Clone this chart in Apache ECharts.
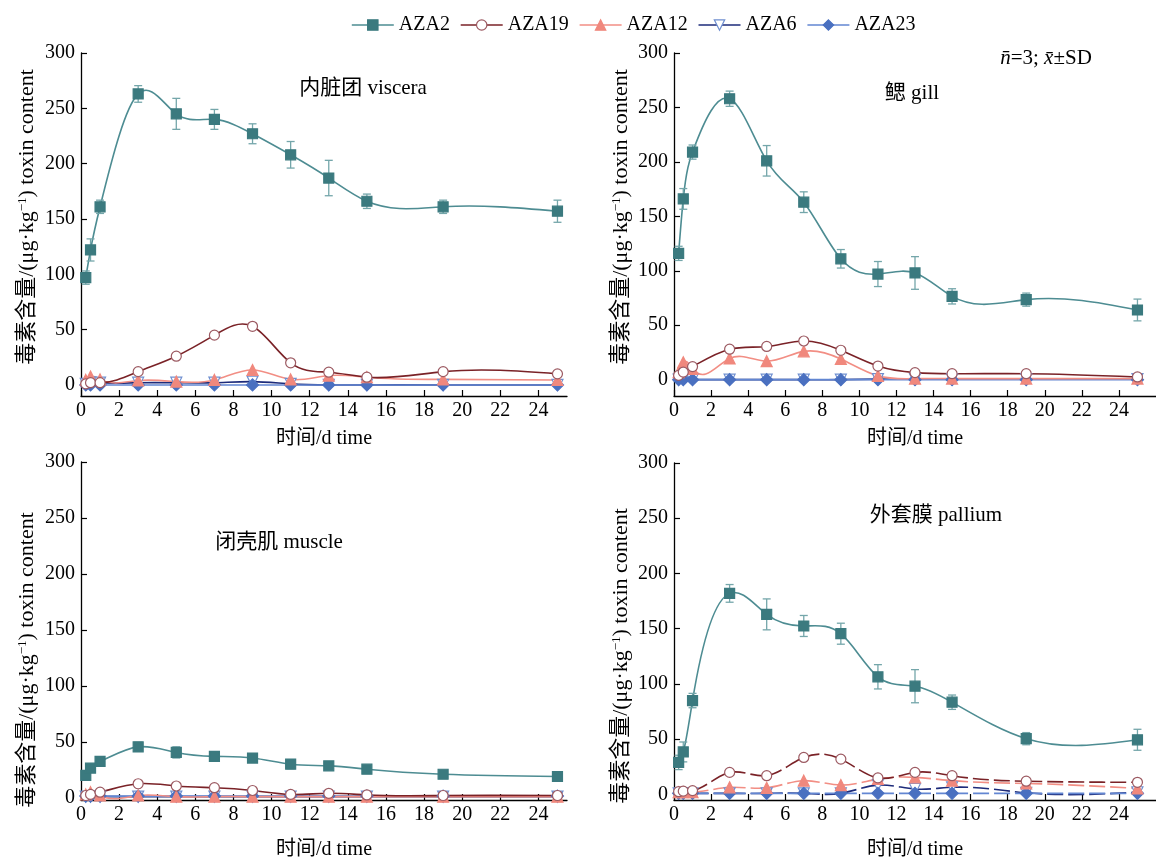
<!DOCTYPE html>
<html>
<head>
<meta charset="utf-8">
<script src="https://cdn.jsdelivr.net/npm/echarts@6/dist/echarts.min.js"></script>
<style>
html,body{margin:0;padding:0;background:#fff;}
#c{width:1156px;height:861px;}
</style>
</head>
<body>
<div id="c"></div>
<script>
// ---------- data ----------
const times = [0.25, 0.5, 1, 3, 5, 7, 9, 11, 13, 15, 19, 25];
const seriesNames = ['AZA2', 'AZA19', 'AZA12', 'AZA6', 'AZA23'];
const xTickValues = [0, 2, 4, 6, 8, 10, 12, 14, 16, 18, 20, 22, 24];
const yTickValues = [0, 50, 100, 150, 200, 250, 300];

const panelTitles = ['内脏团 viscera', '鳃 gill', '闭壳肌 muscle', '外套膜 pallium'];

// viscera
const visceraAZA2   = [97, 122, 161, 263, 245, 240, 227, 208, 187, 166, 161, 157];
const visceraAZA2sd = [6, 10, 6, 7.5, 14, 9, 9, 12, 16, 6.5, 6, 10];
const visceraAZA19  = [1, 2, 2, 12, 26, 45, 53, 20, 11.5, 7, 12, 10];
const visceraAZA12  = [4.5, 7.5, 5, 4, 3, 4.5, 13.5, 5, 8.5, 7, 5, 4.5];
const visceraAZA6   = [1, 2, 2, 2, 2, 2, 3, 1, 0, 0, 0, 0];
const visceraAZA23  = [0, 0, 0, 0, 0, 0, 0, 0, 0, 0, 0, 0];

// gill
const gillAZA2   = [116, 166, 209, 258, 201, 163, 111, 97, 98, 76.5, 73.5, 64];
const gillAZA2sd = [6.5, 9.5, 6.5, 7, 14, 9.5, 8.5, 11.5, 15, 7, 6, 10];
const gillAZA19  = [4, 7, 12, 28, 30.5, 35.5, 27, 12.5, 6.5, 5.5, 5.5, 2.5];
const gillAZA12  = [7, 16, 10, 19.5, 17, 26, 19, 3.5, 1, 1, 1, 1];
const gillAZA6   = [0, 0, 0, 0, 0, 0, 0, 0.5, 0.5, 0.5, 0.5, 0.5];
const gillAZA23  = [0, 0, 0, 0, 0, 0, 0, 0, 0, 0, 0, 0];

// muscle
const muscleAZA2   = [20, 26.5, 32.5, 45.5, 40.5, 37, 35.5, 30, 28.5, 25.5, 21, 19];
const muscleAZA2sd = [2, 2, 2, 4, 5, 2.5, 2, 4, 2, 2, 1.5, 1.5];
const muscleAZA19  = [2, 3, 5, 12.5, 10.5, 9, 6.5, 3, 4, 2.5, 2, 2];
const muscleAZA12  = [3, 5, 2, 2, 1, 1, 1, 1, 1, 1, 1, 1];
const muscleAZA6   = [1, 1, 1, 1, 1, 1, 1, 1, 1, 1, 1, 1];
const muscleAZA23  = [1.5, 1.5, 1.5, 1.5, 1.5, 1.5, 1.5, 1.5, 1.5, 1.5, 1.5, 1.5];

// pallium
const palliumAZA2   = [29, 38.5, 85, 182, 163, 152.5, 145.5, 106.5, 98, 83.5, 50.5, 49.5];
const palliumAZA2sd = [6.5, 9, 6.5, 8, 14, 9.5, 9.5, 11, 15, 6.5, 5.5, 9.5];
const palliumAZA19  = [2.5, 3, 3.5, 20, 17, 33.5, 32, 15, 20, 17, 12, 11];
const palliumAZA12  = [2, 2, 2, 6.5, 6, 12.5, 8.5, 14, 15.5, 12.5, 10, 5.5];
const palliumAZA6   = [1, 1, 1, 1, 1, 1, 1, 8.5, 5, 6.5, 1.5, 2];
const palliumAZA23  = [1, 1, 1, 1, 1, 1, 1, 1, 1, 1, 1, 1];

const panelData = [
  [visceraAZA2, visceraAZA19, visceraAZA12, visceraAZA6, visceraAZA23],
  [gillAZA2, gillAZA19, gillAZA12, gillAZA6, gillAZA23],
  [muscleAZA2, muscleAZA19, muscleAZA12, muscleAZA6, muscleAZA23],
  [palliumAZA2, palliumAZA19, palliumAZA12, palliumAZA6, palliumAZA23]
];
const panelSD = [visceraAZA2sd, gillAZA2sd, muscleAZA2sd, palliumAZA2sd];

// ---------- styles ----------
const FONT = "'Liberation Serif','Times New Roman','Noto Sans CJK SC',serif";
const styles = [
  {symbol: 'rect', size: 10, line: '#4d8c92', fill: '#3b7a7f', border: '#3b7a7f'},
  {symbol: 'circle', size: 10, line: '#7a2227', fill: '#ffffff', border: '#9c5a62'},
  {symbol: 'triangle', size: 11, line: '#f28e84', fill: '#f0887d', border: '#f0887d'},
  {symbol: 'path://M0,0 L10,0 L5,9 Z', size: 11, line: '#1d2b7a', fill: '#ffffff', border: '#6f8fd0'},
  {symbol: 'diamond', size: 12, line: '#6286d2', fill: '#4a70c0', border: '#4a70c0'}
];
const drawOrder = [3, 4, 2, 1, 0];

const grids = [
  {left: 81, top: 53, width: 486, height: 343},
  {left: 674, top: 53, width: 484, height: 343},
  {left: 81, top: 462, width: 486, height: 345},
  {left: 674, top: 463, width: 484, height: 341}
];
const xMax = [25.5, 26, 25.5, 26];
const yMin = [-10, -15, -2, -5];
const xNameGap = [33, 33, 40, 40];

// natural cubic spline slopes (pixel space) -> bezier segments
function splineSegments(pts) {
  const n = pts.length;
  const h = [], M = new Array(n).fill(0);
  for (let i = 0; i < n - 1; i++) h.push(pts[i + 1][0] - pts[i][0]);
  if (n > 2) {
    const a = [], b = [], c = [], d = [];
    for (let i = 1; i < n - 1; i++) {
      a.push(h[i - 1]); b.push(2 * (h[i - 1] + h[i])); c.push(h[i]);
      d.push(6 * ((pts[i + 1][1] - pts[i][1]) / h[i] - (pts[i][1] - pts[i - 1][1]) / h[i - 1]));
    }
    const m = b.length;
    for (let i = 1; i < m; i++) {
      const w = a[i] / b[i - 1];
      b[i] -= w * c[i - 1];
      d[i] -= w * d[i - 1];
    }
    const sol = new Array(m);
    sol[m - 1] = d[m - 1] / b[m - 1];
    for (let i = m - 2; i >= 0; i--) sol[i] = (d[i] - c[i] * sol[i + 1]) / b[i];
    for (let i = 0; i < m; i++) M[i + 1] = sol[i];
  }
  const segs = [];
  for (let i = 0; i < n - 1; i++) {
    const hi = h[i], s = (pts[i + 1][1] - pts[i][1]) / hi;
    const d0 = s - hi * (2 * M[i] + M[i + 1]) / 6;
    const d1 = s + hi * (M[i] + 2 * M[i + 1]) / 6;
    segs.push({
      x1: pts[i][0], y1: pts[i][1],
      cpx1: pts[i][0] + hi / 3, cpy1: pts[i][1] + d0 * hi / 3,
      cpx2: pts[i + 1][0] - hi / 3, cpy2: pts[i + 1][1] - d1 * hi / 3,
      x2: pts[i + 1][0], y2: pts[i + 1][1]
    });
  }
  return segs;
}

const chart = echarts.init(document.getElementById('c'), null, {renderer: 'canvas'});

const xAxes = [], yAxes = [], series = [];
for (let i = 0; i < 4; i++) {
  xAxes.push({
    type: 'value', gridIndex: i, min: 0, max: xMax[i],
    name: '时间/d time', nameLocation: 'middle', nameGap: xNameGap[i],
    nameTextStyle: {fontFamily: FONT, fontSize: 20, color: '#000', verticalAlign: 'top'},
    axisLine: {show: true, onZero: false, lineStyle: {color: '#000', width: 1.3}},
    axisTick: {show: true, inside: true, length: 6, customValues: xTickValues, lineStyle: {color: '#000', width: 1.2}},
    axisLabel: {customValues: xTickValues, fontFamily: FONT, fontSize: 20, color: '#000', margin: 5},
    splitLine: {show: false}
  });
  yAxes.push({
    type: 'value', gridIndex: i, min: yMin[i], max: 300,
    axisLine: {show: true, onZero: false, lineStyle: {color: '#000', width: 1.3}},
    axisTick: {show: true, inside: true, length: 6, customValues: yTickValues, lineStyle: {color: '#000', width: 1.2}},
    axisLabel: {customValues: yTickValues, fontFamily: FONT, fontSize: 20, color: '#000', margin: 6},
    splitLine: {show: false}
  });
  // error bars for AZA2
  series.push({
    type: 'custom', xAxisIndex: i, yAxisIndex: i, z: 3, silent: true,
    data: times.map((t, k) => [t, panelData[i][0][k] - panelSD[i][k], panelData[i][0][k] + panelSD[i][k]]),
    encode: {x: 0, y: [1, 2]},
    renderItem: function (params, api) {
      const x = api.value(0);
      const lo = api.coord([x, api.value(1)]);
      const hi = api.coord([x, api.value(2)]);
      const w = 4;
      const st = {stroke: '#74a6aa', lineWidth: 1.3};
      return {type: 'group', children: [
        {type: 'line', shape: {x1: lo[0], y1: lo[1], x2: hi[0], y2: hi[1]}, style: st},
        {type: 'line', shape: {x1: hi[0] - w, y1: hi[1], x2: hi[0] + w, y2: hi[1]}, style: st},
        {type: 'line', shape: {x1: lo[0] - w, y1: lo[1], x2: lo[0] + w, y2: lo[1]}, style: st}
      ]};
    }
  });
  drawOrder.forEach(function (s, order) {
    const st = styles[s];
    const vals = panelData[i][s];
    const dashed = (i === 3 && s > 0);
    // spline connecting line
    series.push({
      type: 'custom', xAxisIndex: i, yAxisIndex: i, silent: true, clip: true,
      z: 2 + order * 0.1,
      data: times.map((t, k) => [t, vals[k]]),
      encode: {x: 0, y: 1},
      renderItem: function (params, api) {
        if (params.dataIndex !== 0) return {type: 'group', children: []};
        const pts = times.map((t, k) => api.coord([t, vals[k]]));
        const segs = splineSegments(pts);
        return {type: 'group', children: segs.map(sg => ({
          type: 'bezierCurve', shape: sg,
          style: {stroke: st.line, lineWidth: 1.6, fill: null, lineDash: dashed ? [16, 5] : null}
        }))};
      }
    });
    // markers
    series.push({
      name: seriesNames[s], type: 'line', xAxisIndex: i, yAxisIndex: i,
      data: times.map((t, k) => [t, vals[k]]),
      symbol: st.symbol, symbolSize: st.size, showAllSymbol: true,
      z: 4 + order * 0.1,
      lineStyle: {color: st.line, width: 1.6, opacity: 0},
      itemStyle: {color: st.fill, borderColor: st.border, borderWidth: 1.2},
      emphasis: {disabled: true},
      animation: false
    });
  });
}

function yName(x, y) {
  return {
    type: 'text', x: x, y: y, rotation: Math.PI / 2,
    style: {
      text: '{a|毒素含量/(μg·kg}{s|−1}{a|) toxin content}',
      align: 'center', verticalAlign: 'middle',
      rich: {
        a: {fontFamily: FONT, fontSize: 22, fill: '#000', color: '#000'},
        s: {fontFamily: FONT, fontSize: 13, fill: '#000', color: '#000', verticalAlign: 'top'}
      }
    }
  };
}
function title(x, y, txt) {
  return {type: 'text', x: x, y: y, style: {text: txt, font: '21px ' + FONT, fill: '#000', align: 'center', verticalAlign: 'middle'}};
}

const graphics = [
  yName(27, 217), yName(621, 217), yName(27, 660), yName(621, 656),
  title(363, 88, panelTitles[0]), title(912, 93, panelTitles[1]),
  title(279, 542, panelTitles[2]), title(936, 515, panelTitles[3]),
  {type: 'text', x: 1046, y: 58, style: {
    text: '{i|n\u0304}{r|=3; }{i|x\u0304}{r|±SD}', align: 'center', verticalAlign: 'middle',
    rich: {
      i: {fontFamily: FONT, fontStyle: 'italic', fontSize: 21, fill: '#000', color: '#000'},
      r: {fontFamily: FONT, fontSize: 21, fill: '#000', color: '#000'}
    }
  }}
];

chart.setOption({
  animation: false,
  backgroundColor: '#ffffff',
  legend: {
    data: seriesNames.map((nm, s) => ({
      name: nm,
      lineStyle: {color: styles[s].line, width: 1.6, opacity: 1, type: 'solid'},
      itemStyle: {color: styles[s].fill, borderColor: styles[s].border, borderWidth: 1.2}
    })),
    top: 10, left: 346,
    itemWidth: 42, itemHeight: 13, itemGap: 10,
    textStyle: {fontFamily: FONT, fontSize: 20, color: '#000'},
    selectedMode: false
  },
  grid: grids,
  xAxis: xAxes,
  yAxis: yAxes,
  series: series,
  graphic: graphics
});
</script>
</body>
</html>
